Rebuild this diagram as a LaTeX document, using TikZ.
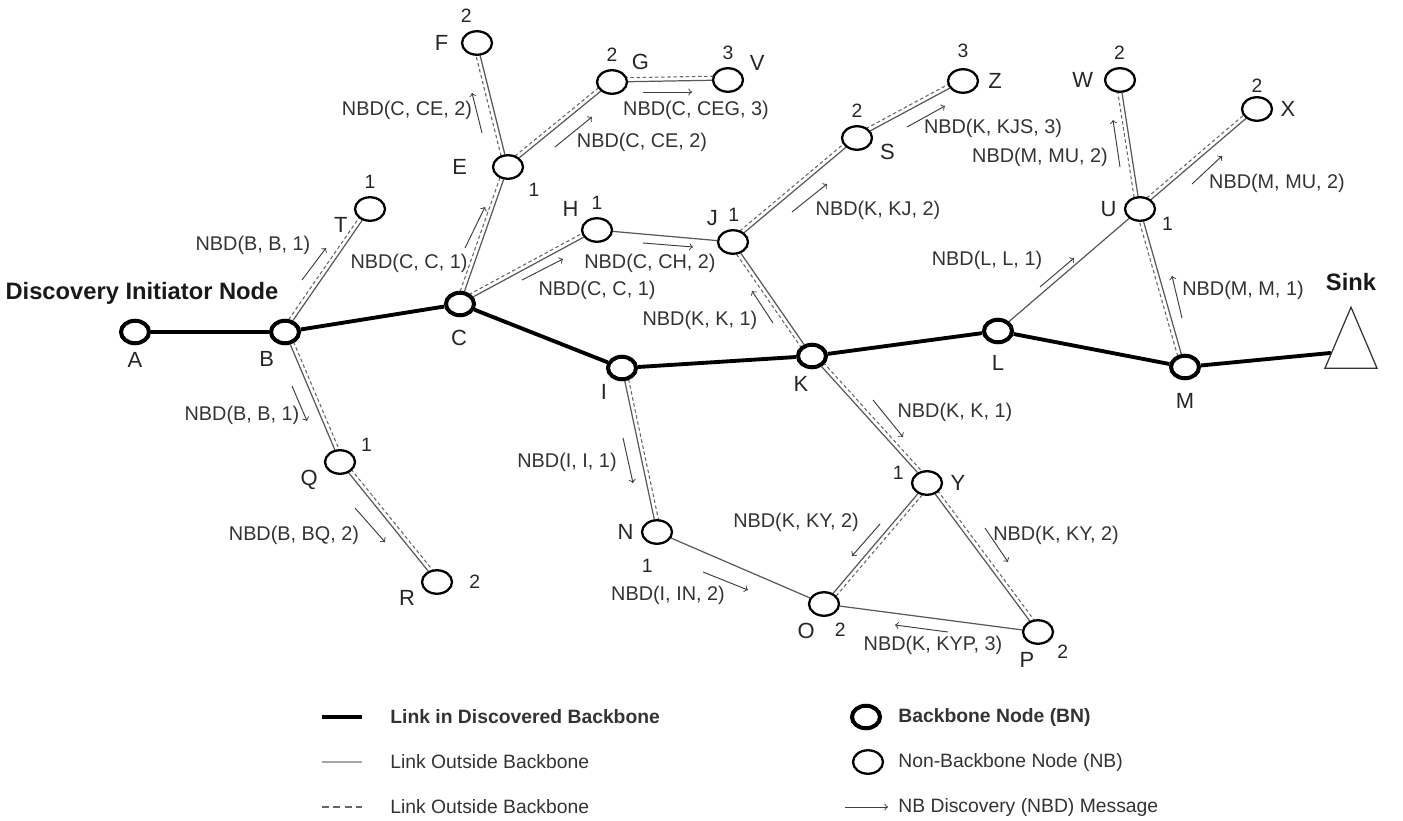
\documentclass[tikz,border=0pt]{standalone}
\usepackage{fontspec}
\setmainfont{Liberation Sans}
\usetikzlibrary{calc,backgrounds,shapes.geometric}

\begin{document}
\begin{tikzpicture}[x=0.02cm,y=-0.02cm]
\tikzset{
  bnode/.style={draw, ellipse, fill=white, line width=2.3pt, minimum width=0.56cm, minimum height=0.45cm, inner sep=0pt},
  nbnode/.style={draw, ellipse, fill=white, line width=1.3pt, minimum width=0.6cm, minimum height=0.47cm, inner sep=0pt},
  sink/.style={draw, isosceles triangle, isosceles triangle stretches, shape border rotate=90, minimum width=1.04cm, minimum height=1.22cm, inner sep=0pt, line width=0.7pt, black!80, fill=white},
  lab/.style={font=\fontsize{12.5}{14}\selectfont, text=black!85, inner sep=1pt},
  hop/.style={font=\fontsize{11}{13}\selectfont},
  every label/.style={lab},
  label distance=3pt,
  bold/.style={font=\fontsize{13.5}{16}\selectfont\bfseries, text=black!90},
  nbdtxt/.style={font=\fontsize{11.3}{13}\selectfont, text=black!80, inner sep=1pt},
  bbline/.style={line width=2.2pt, black},
  nbline/.style={line width=0.7pt, black!65},
  nbdash/.style={line width=0.6pt, black!60, dash pattern=on 2pt off 1.5pt},
  msg/.style={->, line width=0.55pt, black!75},
  legtxt/.style={font=\fontsize{11}{13}\selectfont, text=black!80, anchor=west, inner sep=0pt}
}
\useasboundingbox (0,0) rectangle (1403,821);

% backbone nodes
\node[bnode, label={[bold,label distance=7pt,xshift=0.14cm]90:Discovery Initiator Node}, label=270:A] (A) at (135,332) {};
\node[bnode, label=242:B] (B) at (285,332) {};
\node[bnode, label={[label distance=6pt]268:C}] (C) at (460,304) {};
\node[bnode, label=229:I] (I) at (622,368) {};
\node[bnode, label=265:K] (K) at (812,356) {};
\node[bnode, label={[label distance=5pt]270:L}] (L) at (998,331) {};
\node[bnode, label={[label distance=6pt]270:M}] (M) at (1185,367) {};
\node[sink, label={[bold,label distance=7pt]90:Sink}] (Sink) at (1351,351) {};

% non-backbone nodes
\node[nbnode, label=196:T, label={[hop]90:1}] (T) at (370,209) {};
\node[nbnode, label=197:Q, label={[hop]24:1}] (Q) at (340,462) {};
\node[nbnode, label=198:R, label={[hop,label distance=8pt]0:2}] (R) at (437,582) {};
\node[nbnode, label={[label distance=13pt]180:E}, label={[hop,label distance=5pt]-38:1}] (E) at (508,167) {};
\node[nbnode, label={[label distance=6pt]180:F}, label={[hop]100:2}] (F) at (477,43) {};
\node[nbnode, label=30:G, label={[hop]90:2}] (G) at (612,82) {};
\node[nbnode, label=20:V, label={[hop]90:3}] (V) at (728,80) {};
\node[nbnode, label=145:H, label={[hop]90:1}] (H) at (597,230) {};
\node[nbnode, label=132:J, label={[hop]88:1}] (J) at (733,242) {};
\node[nbnode, label=-10:S, label={[hop]90:2}] (S) at (857,138) {};
\node[nbnode, label={[label distance=4pt]0:Z}, label={[hop,label distance=5pt]90:3}] (Z) at (963,81) {};
\node[nbnode, label={[label distance=5pt]180:W}, label={[hop]92:2}] (W) at (1120,80) {};
\node[nbnode, label=0:X, label={[hop,label distance=1pt]90:2}] (X) at (1257,109) {};
\node[nbnode, label={[label distance=3pt]180:U}, label={[hop]-17:1}] (U) at (1140,209) {};
\node[nbnode, label=180:N, label={[hop,label distance=7pt]265:1}] (N) at (657,532) {};
\node[nbnode, label=247:O, label={[hop]298:2}] (O) at (824,604) {};
\node[nbnode, label=0:Y, label={[hop]175:1}] (Y) at (927,483) {};
\node[nbnode, label=265:P, label={[hop]-32:2}] (P) at (1038,632) {};

% links
\begin{scope}[on background layer]
  \draw[bbline] (A) -- (B) -- (C) -- (I) -- (K) -- (L) -- (M) -- (Sink);
  \foreach \u/\v in {B/T, B/Q, Q/R, C/E, E/F, E/G, G/V, C/H, K/J, J/S, S/Z, I/N, K/Y, Y/O, Y/P, M/U, U/W, U/X}{
    \draw[nbline] (\u) -- (\v);
    \draw[nbdash] ($(\u)!2.3pt!90:(\v)$) -- ($(\v)!2.3pt!-90:(\u)$);
  }
  \draw[nbline] (H) -- (J) (N) -- (O) (O) -- (P) (L) -- (U);
\end{scope}

% NBD messages
\draw[msg] (302,280) -- (326,248);
\node[nbdtxt] (mBT) at (253,245) {NBD(B, B, 1)};
\draw[msg] (292,386) -- (307,421);
\node[nbdtxt] (mBQ) at (242,415) {NBD(B, B, 1)};
\draw[msg] (355,508) -- (385,542);
\node[nbdtxt] (mQR) at (294,535) {NBD(B, BQ, 2)};
\draw[msg] (465,248) -- (485,207);
\node[nbdtxt] (mCE) at (409,263) {NBD(C, C, 1)};
\draw[msg] (482,133) -- (472,93);
\node[nbdtxt] (mEF) at (407,110) {NBD(C, CE, 2)};
\draw[msg] (555,147) -- (592,117);
\node[nbdtxt] (mEG) at (642,142) {NBD(C, CE, 2)};
\draw[msg] (643,92) -- (692,92);
\node[nbdtxt] (mGV) at (696,110) {NBD(C, CEG, 3)};
\draw[msg] (522,280) -- (563,259);
\node[nbdtxt] (mCH) at (597,290) {NBD(C, C, 1)};
\draw[msg] (643,243) -- (693,247);
\node[nbdtxt] (mHJ) at (650,263) {NBD(C, CH, 2)};
\draw[msg] (773,323) -- (752,291);
\node[nbdtxt] (mKJ) at (700,320) {NBD(K, K, 1)};
\draw[msg] (792,212) -- (827,184);
\node[nbdtxt] (mJS) at (878,210) {NBD(K, KJ, 2)};
\draw[msg] (907,127) -- (945,106);
\node[nbdtxt] (mSZ) at (993,128) {NBD(K, KJS, 3)};
\draw[msg] (1040,287) -- (1074,258);
\node[nbdtxt] (mLU) at (987,260) {NBD(L, L, 1)};
\draw[msg] (1120,167) -- (1113,120);
\node[nbdtxt] (mUW) at (1040,157) {NBD(M, MU, 2)};
\draw[msg] (1192,184) -- (1222,156);
\node[nbdtxt] (mUX) at (1277,183) {NBD(M, MU, 2)};
\draw[msg] (1182,318) -- (1172,276);
\node[nbdtxt] (mMU) at (1243,290) {NBD(M, M, 1)};
\draw[msg] (873,400) -- (903,437);
\node[nbdtxt] (mKY) at (955,412) {NBD(K, K, 1)};
\draw[msg] (880,524) -- (852,556);
\node[nbdtxt] (mYO) at (796,522) {NBD(K, KY, 2)};
\draw[msg] (985,528) -- (1008,562);
\node[nbdtxt] (mYP) at (1056,535) {NBD(K, KY, 2)};
\draw[msg] (948,632) -- (895,625);
\node[nbdtxt] (mPO) at (933,645) {NBD(K, KYP, 3)};
\draw[msg] (623,438) -- (633,483);
\node[nbdtxt] (mIN) at (567,462) {NBD(I, I, 1)};
\draw[msg] (703,572) -- (748,590);
\node[nbdtxt] (mNO) at (668,595) {NBD(I, IN, 2)};

% legend
\draw[bbline] (322,717) -- (362,717);
\draw[line width=1.6pt, black!35] (322,762) -- (362,762);
\draw[nbdash, line width=0.6pt, dash pattern=on 4pt off 2.5pt] (322,807) -- (362,807);
\node[legtxt, font=\fontsize{11}{13}\selectfont\bfseries] (lg1) at (390,717) {Link in Discovered Backbone};
\node[legtxt] (lg2) at (390,762) {Link Outside Backbone};
\node[legtxt] (lg3) at (390,807) {Link Outside Backbone};
\node[bnode] (lgBN) at (866,717) {};
\node[nbnode] (lgNB) at (868,762) {};
\draw[msg] (845,807) -- (888,807);
\node[legtxt, font=\fontsize{11}{13}\selectfont\bfseries] (lg4) at (898,717) {Backbone Node (BN)};
\node[legtxt] (lg5) at (898,762) {Non-Backbone Node (NB)};
\node[legtxt] (lg6) at (898,807) {NB Discovery (NBD) Message};
\end{tikzpicture}
\end{document}
